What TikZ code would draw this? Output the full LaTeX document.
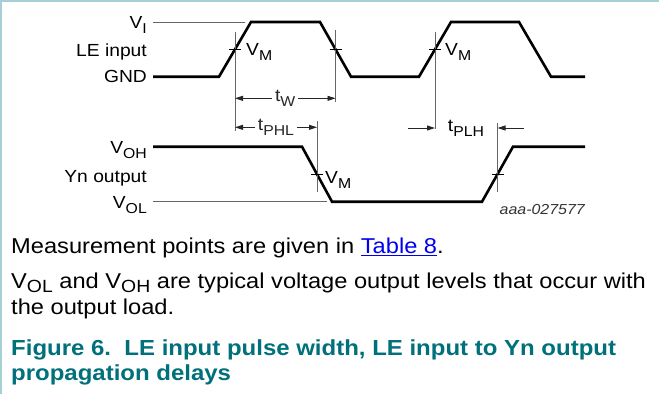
\documentclass[tikz,border=0pt]{standalone}
\usepackage{fontspec}
\setmainfont{Liberation Sans}[FakeStretch=1.1]
\usetikzlibrary{arrows.meta, positioning}
\definecolor{frameblue}{RGB}{166,208,214}
\definecolor{capteal}{RGB}{0,112,122}
\definecolor{linkblue}{RGB}{0,0,238}
\tikzstyle{wave}=[line width=2.6pt, line join=miter]
\tikzstyle{guide}=[line width=0.8pt, black!60]
\tikzstyle{tick}=[line width=0.8pt, black]
\tikzstyle{dimline}=[line width=0.9pt, black!85]
\tikzstyle{lbl}=[inner sep=0pt, font=\fontsize{17.5}{20}\selectfont]
\tikzstyle{body}=[inner sep=0pt, align=left, font=\fontsize{21.5}{26}\selectfont]
\newcommand{\lo}[2][-0.3em]{\raisebox{#1}{\scalebox{0.82}{#2}}}

\begin{document}
\begin{tikzpicture}[x=1pt, y=-1pt, >={Triangle[length=8pt,width=5pt]}]
    \useasboundingbox (0,0) rectangle (659,394);
    \draw[frameblue, line width=2pt] (1,394) -- (1,1) -- (659,1);
    % level labels
    \node[lbl, anchor=base east] (vi) at (147,28.5) {V\lo{I}};
    \node[lbl, anchor=base east] (le) at (147,56) {LE input};
    \node[lbl, anchor=base east] (gnd) at (147,82.7) {GND};
    \node[lbl, anchor=base east] (voh) at (147,153.2) {V\lo{OH}};
    \node[lbl, anchor=base east] (yn) at (147,182.7) {Yn output};
    \node[lbl, anchor=base east] (vol) at (147,208.2) {V\lo{OL}};
    % waveforms
    \draw[guide] (153,22) -- (245,22);
    \draw[guide] (153,201.7) -- (327,201.7);
    \draw[wave] (153,76.7) -- (219,76.7) -- (251,22) -- (320,22) -- (351,76.7)
        -- (419,76.7) -- (451,22) -- (519,22) -- (551,76.7) -- (585,76.7);
    \draw[wave] (153,146.7) -- (302,146.7) -- (332,201.7) -- (482,201.7)
        -- (513,146.7) -- (585,146.7);
    % measurement points
    \coordinate (m1) at (235,49.4);
    \coordinate (m2) at (335.5,49.4);
    \coordinate (m3) at (435,49.4);
    \coordinate (m4) at (317,174.2);
    \coordinate (m5) at (497.5,174.2);
    \draw[guide] (235,32) -- (235,131);
    \draw[guide] (335.5,30) -- (335.5,102);
    \draw[guide] (435,32) -- (435,129);
    \draw[guide] (317,121) -- (317,192);
    \draw[guide] (497.5,123) -- (497.5,192);
    \foreach \m in {m1,m2,m3,m4,m5}
        \draw[tick] ([xshift=-6pt]\m) -- ([xshift=6pt]\m);
    \node[lbl, anchor=base west] (vm1) at (246,55.7) {V\lo{M}};
    \node[lbl, anchor=base west] (vm3) at (445,55.7) {V\lo{M}};
    \node[lbl, anchor=base west] (vm4) at (325,183) {V\lo{M}};
    % timing arrows
    \coordinate (twl) at (235,98.3);
    \coordinate (twr) at (335.5,98.3);
    \draw[dimline, <->] (twl) -- node[lbl, fill=white, inner xsep=3pt] (tw) {t\lo{W}} (twr);
    \coordinate (phll) at (235,127.3);
    \coordinate (phlr) at (317,127.3);
    \draw[dimline, <->] (phll) -- node[lbl, fill=white, inner xsep=3pt] (tphl) {t\lo{PHL}} (phlr);
    \coordinate (plhl) at (435,128);
    \coordinate (plhr) at (497.5,128);
    \node[lbl] (tplh) at (466,128) {t\lo{PLH}};
    \draw[dimline, ->] ([xshift=-27pt]plhl) -- (plhl);
    \draw[dimline, ->] ([xshift=26pt]plhr) -- (plhr);
    \node[lbl, anchor=base east, font=\fontsize{14.5}{18}\selectfont\itshape, text=black!80] (ref) at (585,214) {aaa-027577};
    % notes and caption
    \node[body, anchor=base west] (note1) at (11,253.3) {Measurement points are given in \textcolor{linkblue}{\underline{Table 8}}.};
    \node[body, anchor=base west] (note2) at (11,314) {V\lo[-0.2em]{OL} and V\lo[-0.2em]{OH} are typical voltage output levels that occur with\\the output load.};
    \node[body, anchor=base west, text=capteal, font=\fontsize{21.8}{25}\selectfont\bfseries] (cap) at (11,380) {Figure 6.\ \ LE input pulse width, LE input to Yn output\\propagation delays};
\end{tikzpicture}
\end{document}
